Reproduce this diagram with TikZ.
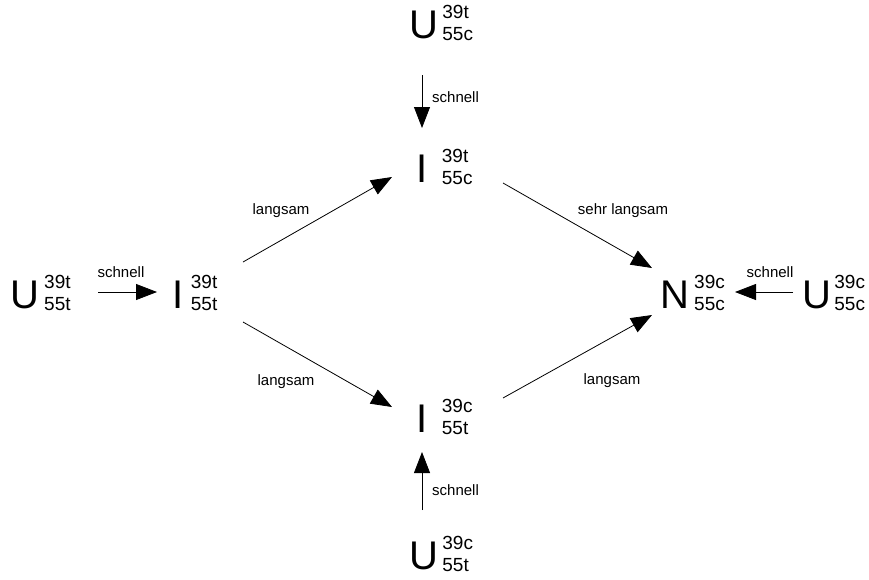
\documentclass[tikz,border=0pt]{standalone}
\usepackage{fontspec}
\setmainfont{Liberation Sans}
\usetikzlibrary{arrows.meta,calc}
\newcommand{\spcs}[4]{{\fontsize{40}{40}\selectfont #1}\hspace{#4}{\fontsize{19}{19}\selectfont\rlap{\raisebox{20pt}{#2}}\raisebox{-2.5pt}{#3}}}
\begin{document}
\begin{tikzpicture}[x=1pt,y=-1pt,
  spc/.style={inner sep=0pt, outer sep=0pt, anchor=base west},
  lbl/.style={font=\fontsize{15}{15}\selectfont, inner sep=0pt},
  arr/.style={-{Triangle[length=21pt,width=16pt]}, line width=0.8pt}]
\useasboundingbox (0,0) rectangle (869,579);
\node[spc] (u1) at (10,308) {\spcs{U}{39t}{55t}{5.3pt}};
\node[spc] (i1) at (172,308) {\spcs{I}{39t}{55t}{7.8pt}};
\node[spc] (ut) at (409,38) {\spcs{U}{39t}{55c}{4.5pt}};
\node[spc] (it) at (416,182) {\spcs{I}{39t}{55c}{14.8pt}};
\node[spc] (ib) at (416,432) {\spcs{I}{39c}{55t}{14.8pt}};
\node[spc] (ub) at (409,569) {\spcs{U}{39c}{55t}{4.5pt}};
\node[spc] (n) at (660,308) {\spcs{N}{39c}{55c}{5.3pt}};
\node[spc] (ur) at (802,308) {\spcs{U}{39c}{55c}{3.5pt}};
\draw[arr] ($(u1.base west)+(88,-16)$) -- ($(i1.base west)+(-15,-16)$);
\draw[arr] ($(ut.base west)+(13,37)$) -- ($(it.base west)+(6,-54)$);
\draw[arr] ($(i1.base west)+(71,-46)$) -- ($(it.base west)+(-24,-5)$);
\draw[arr] ($(i1.base west)+(71,14)$) -- ($(ib.base west)+(-24,-25)$);
\draw[arr] ($(it.base west)+(87,1)$) -- ($(n.base west)+(-8,-40)$);
\draw[arr] ($(ib.base west)+(87,-34)$) -- ($(n.base west)+(-8,7)$);
\draw[arr] ($(ur.base west)+(-9,-16)$) -- ($(n.base west)+(75,-16)$);
\draw[arr] ($(ub.base west)+(13,-59)$) -- ($(ib.base west)+(6,20)$);
\node[lbl, anchor=base] (l1) at (121,277) {schnell};
\node[lbl, anchor=base west] (l2) at (432,102) {schnell};
\node[lbl, anchor=base] (l3) at (281,214) {langsam};
\node[lbl, anchor=base] (l4) at (286,385) {langsam};
\node[lbl, anchor=base] (l5) at (623,214) {sehr langsam};
\node[lbl, anchor=base] (l6) at (612,384) {langsam};
\node[lbl, anchor=base] (l7) at (770,277) {schnell};
\node[lbl, anchor=base west] (l8) at (432,495) {schnell};
\end{tikzpicture}
\end{document}
